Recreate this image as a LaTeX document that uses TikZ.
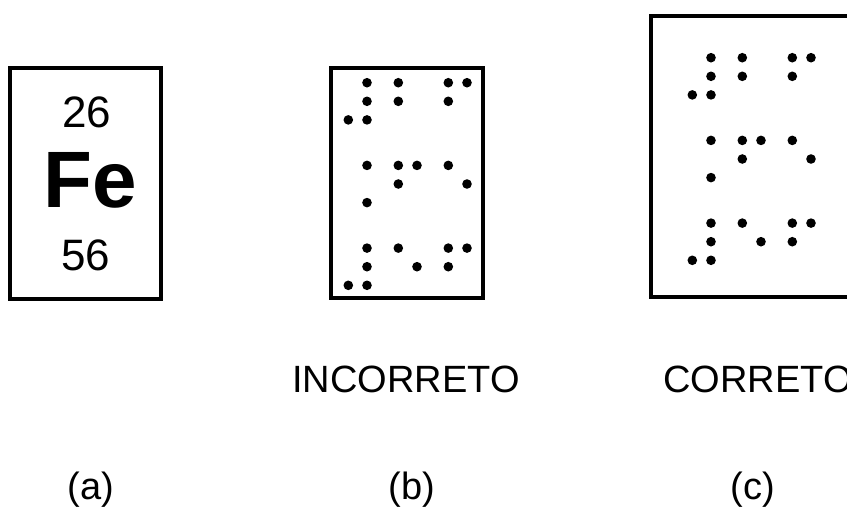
\documentclass[tikz,border=0pt]{standalone}
\usepackage{fontspec}
\setmainfont{Liberation Sans}
\usepackage{tikz}
\usetikzlibrary{positioning}
\tikzset{
    % Frame around a tile:
    tile/.style = {
        draw,
        line width = 4.5pt
    },
    % Plain label:
    label text/.style = {
        inner sep = 0pt,
        font = \fontsize{38}{38}\selectfont
    },
    % Numbers inside the element tile:
    element number/.style = {
        inner sep = 0pt,
        font = \fontsize{44}{44}\selectfont
    },
    element symbol/.style = {
        inner sep = 0pt,
        font = \fontsize{80}{80}\selectfont\bfseries
    }
}
% Braille for "26 Fe 56", one (column, row) pair per dot,
% drawn from the top left dot position #1.
\newcommand{\brailledots}[1]{
    \foreach \c/\r in {1/0, 2/0, 4/0, 5/0, 1/1, 2/1, 4/1, 0/2, 1/2,
                       1/3, 2/3, 3/3, 4/3, 2/4, 5/4, 1/5,
                       1/6, 2/6, 4/6, 5/6, 1/7, 3/7, 4/7, 0/8, 1/8}
        \fill ($(#1) + ({int(\c/2)*50 + mod(\c,2)*18.7}, {int(\r/3)*82.7 + mod(\r,3)*18.6})$)
            circle [radius=4.8pt];
}
\usetikzlibrary{calc}

\begin{document}
\begin{tikzpicture}[x=1pt, y=-1pt]
    \useasboundingbox (0, 0) rectangle (847, 509);
    \clip (0, 0) rectangle (847, 509);

    % (a) element tile
    \draw [tile] (10, 68) rectangle (161, 299);
    \node (z) [element number] at (87, 112) {26};
    \node (fe) [element symbol] at (90, 180) {Fe};
    \node (a) [element number] at (86, 255) {56};

    % (b) braille, frame too tight
    \draw [tile] (331, 68) rectangle (483, 298);
    \coordinate (b0) at (348.3, 82.7);
    \brailledots{b0}

    % (c) braille, with margins
    \draw [tile] (651, 16) rectangle (855, 297);
    \coordinate (c0) at (692.3, 57.7);
    \brailledots{c0}

    \node (wrong) [label text] at (406, 379) {INCORRETO};
    \node (right) [label text] at (758, 379) {CORRETO};

    \node (la) [label text] at (91, 490) {(a)};
    \node (lb) [label text] at (412, 490) {(b)};
    \node (lc) [label text] at (753, 490) {(c)};
\end{tikzpicture}
\end{document}
